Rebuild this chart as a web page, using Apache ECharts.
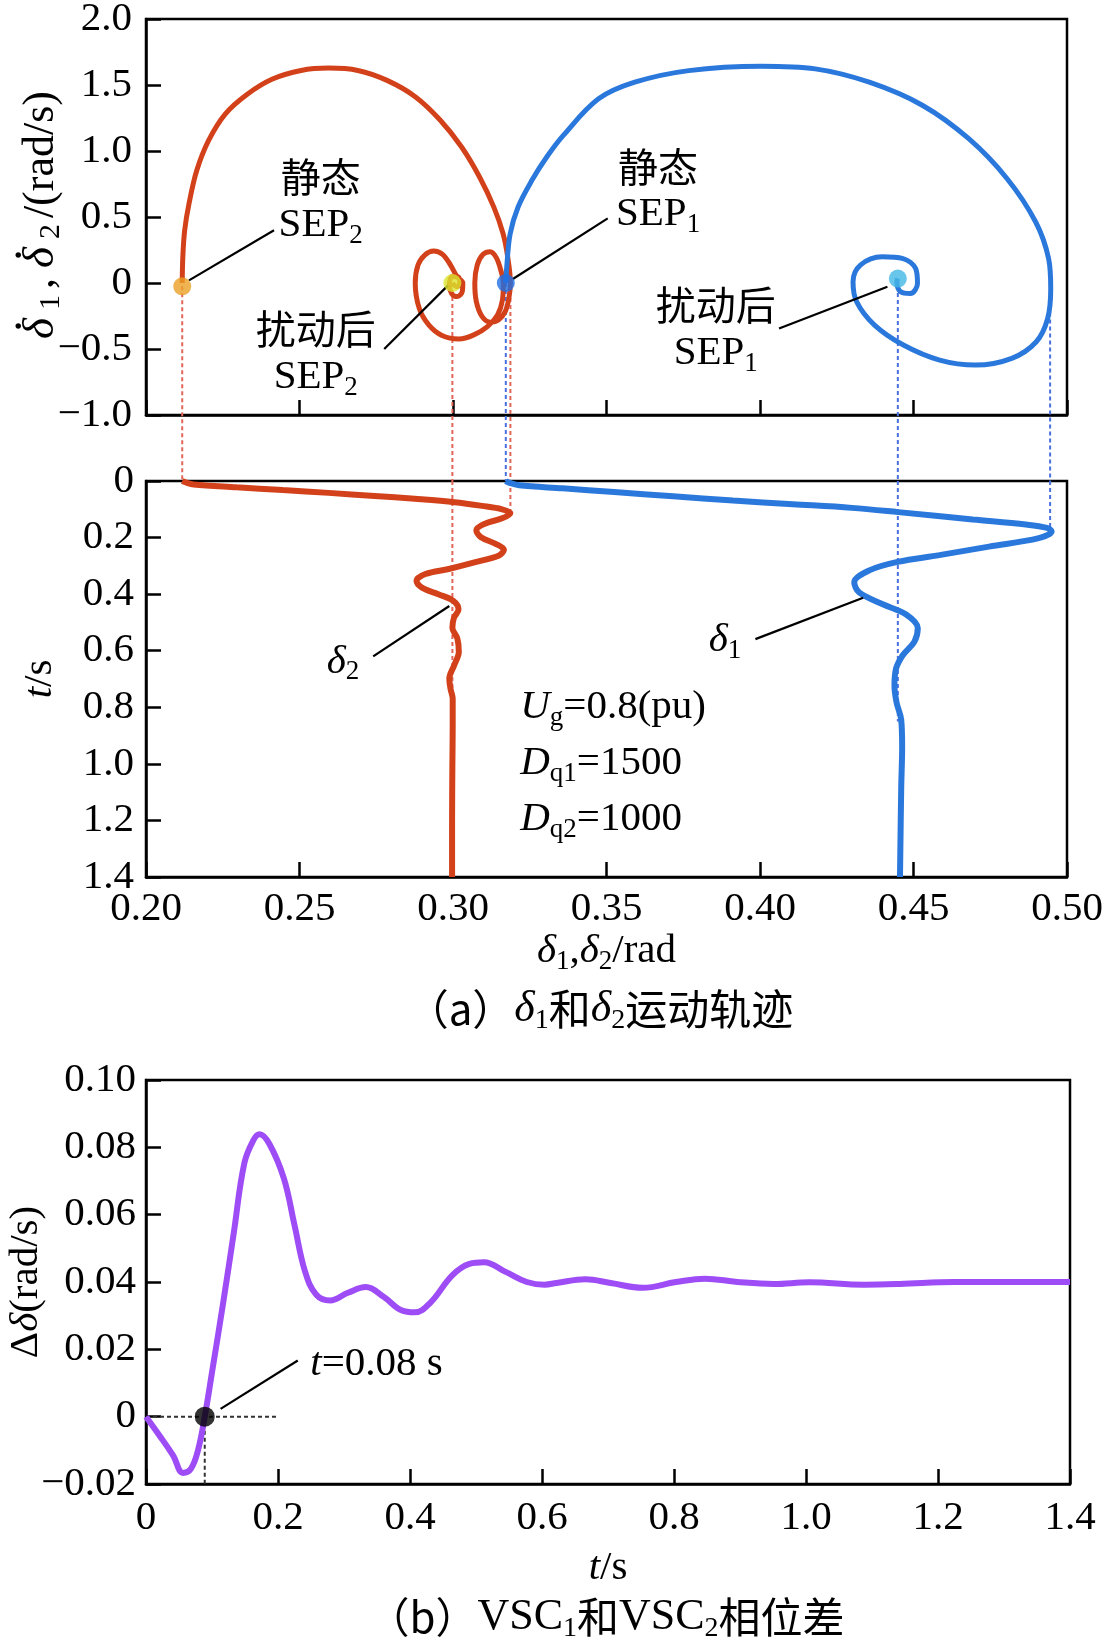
<!DOCTYPE html>
<html>
<head>
<meta charset="utf-8">
<script src="https://cdn.jsdelivr.net/npm/echarts@6/dist/echarts.min.js"></script>
<style>
  html, body { margin: 0; padding: 0; background: #fff; }
  #main { width: 1106px; height: 1641px; }
</style>
</head>
<body>
<div id="main"></div>
<script>
// phase plane: [delta, d(delta)/dt]
const phaseRed = [
  [0.2118, 0.00], [0.2120, 0.20], [0.2126, 0.40], [0.2140, 0.60], [0.2165, 0.85],
  [0.2204, 1.08], [0.2258, 1.28], [0.2330, 1.43], [0.2412, 1.545], [0.2505, 1.610],
  [0.2595, 1.628], [0.2690, 1.610], [0.2785, 1.535], [0.2878, 1.410], [0.2958, 1.235],
  [0.3028, 1.030], [0.3086, 0.805], [0.3133, 0.575], [0.3163, 0.375], [0.3178, 0.200],
  [0.3187, 0.000], [0.3182, -0.116], [0.3170, -0.217], [0.3148, -0.280], [0.3123, -0.298],
  [0.3095, -0.255], [0.3076, -0.141], [0.3071, 0.000], [0.3079, 0.136], [0.3098, 0.217],
  [0.3121, 0.237], [0.3141, 0.192], [0.3157, 0.086], [0.3164, 0.000], [0.3161, -0.129],
  [0.3145, -0.242], [0.3112, -0.330], [0.3068, -0.393], [0.3019, -0.424], [0.2964, -0.398],
  [0.2921, -0.318], [0.2890, -0.192], [0.2877, 0.000], [0.2886, 0.136], [0.2908, 0.212],
  [0.2937, 0.242], [0.2966, 0.217], [0.2992, 0.136], [0.3013, 0.048], [0.3032, 0.000],
  [0.3030, -0.066], [0.3013, -0.103], [0.2995, -0.078], [0.2988, -0.015], [0.2997, 0.048],
  [0.3016, 0.048], [0.3022, 0.000], [0.3013, -0.028], [0.2998, 0.000]
];
const phaseBlue = [
  [0.3172, 0.00], [0.3175, 0.12], [0.3186, 0.37], [0.3212, 0.576], [0.3257, 0.778],
  [0.3307, 0.960], [0.3360, 1.120], [0.3474, 1.395], [0.3592, 1.521], [0.3768, 1.609],
  [0.4004, 1.642], [0.4180, 1.622], [0.4356, 1.521], [0.4530, 1.345], [0.4680, 1.093],
  [0.4805, 0.790], [0.4898, 0.462], [0.4940, 0.185], [0.4947, -0.042], [0.4937, -0.269],
  [0.4900, -0.445], [0.4820, -0.571], [0.4702, -0.622], [0.4585, -0.584], [0.4467, -0.470],
  [0.4373, -0.319], [0.4315, -0.143], [0.4303, 0.009], [0.4327, 0.135], [0.4398, 0.198],
  [0.4466, 0.185], [0.4507, 0.109], [0.4513, -0.004], [0.4490, -0.080], [0.4458, -0.067],
  [0.4446, 0.009], [0.4449, 0.034]
];
// equilibrium points: static SEP2, post SEP2, static SEP1, post SEP1
const sepX = [0.2118, 0.2998, 0.3172, 0.4449];
const sepY = [-0.025, 0.000, 0.000, 0.034];
const sepColor = ['#eba125', '#dbe62e', '#1f6fe6', '#44b8e6'];

// time response: [delta, t]
const timeRed = [
  [0.2118, 0], [0.2132, 0.006], [0.2155, 0.012], [0.2295, 0.022], [0.2445, 0.032],
  [0.2595, 0.042], [0.2745, 0.053], [0.2875, 0.063], [0.3005, 0.075], [0.3095, 0.088],
  [0.3160, 0.100], [0.3187, 0.113], [0.3160, 0.132], [0.3106, 0.150], [0.3076, 0.174],
  [0.3090, 0.198], [0.3139, 0.222], [0.3166, 0.243], [0.3150, 0.263], [0.3073, 0.287],
  [0.2986, 0.311], [0.2910, 0.329], [0.2881, 0.353], [0.2899, 0.377], [0.2954, 0.401],
  [0.3001, 0.424], [0.3018, 0.454], [0.3003, 0.484], [0.2998, 0.520], [0.3014, 0.556],
  [0.3019, 0.604], [0.3004, 0.651], [0.2988, 0.699], [0.2992, 0.735], [0.2999, 0.770],
  [0.2999, 0.866], [0.2998, 1.0], [0.2997, 1.2], [0.2997, 1.4]
];
const timeBlue = [
  [0.3172, 0], [0.3182, 0.006], [0.3215, 0.015], [0.3357, 0.026], [0.3525, 0.039],
  [0.3717, 0.054], [0.3912, 0.069], [0.4107, 0.082], [0.4299, 0.095], [0.4450, 0.110],
  [0.4693, 0.136], [0.4866, 0.154], [0.4935, 0.166], [0.4950, 0.178], [0.4908, 0.202],
  [0.4746, 0.232], [0.4584, 0.262], [0.4448, 0.286], [0.4356, 0.316], [0.4307, 0.358],
  [0.4323, 0.394], [0.4400, 0.436], [0.4476, 0.472], [0.4514, 0.520], [0.4503, 0.568],
  [0.4465, 0.616], [0.4443, 0.664], [0.4438, 0.724], [0.4445, 0.784], [0.4460, 0.844],
  [0.4463, 0.940], [0.4460, 1.084], [0.4456, 1.4]
];

// dotted guides: x, start in phase plane, end time in lower plot
const guideRedX = [0.2118, 0.2998, 0.3187];
const guideRedTop = [-0.025, 0.0, -0.06];
const guideRedEnd = [0.0, 0.80, 0.113];
const guideBlueX = [0.3172, 0.4449, 0.4945];
const guideBlueTop = [0.0, 0.03, -0.17];
const guideBlueEnd = [0.0, 0.85, 0.175];

// phase difference
const diffT = [
  0, 0.019, 0.041, 0.056, 0.068, 0.079, 0.089, 0.101, 0.117, 0.133, 0.149, 0.163, 0.172,
  0.187, 0.209, 0.225, 0.241, 0.258, 0.279, 0.306, 0.333, 0.360, 0.387, 0.407, 0.431,
  0.464, 0.490, 0.512, 0.545, 0.577, 0.604, 0.622, 0.666, 0.704, 0.753, 0.803, 0.847,
  0.896, 0.951, 1.005, 1.088, 1.142, 1.225, 1.4
];
const diffV = [
  0, -0.0052, -0.0115, -0.0167, -0.0155, -0.0098, 0, 0.0144, 0.0339, 0.0546, 0.0753, 0.0822, 0.0839,
  0.0810, 0.0707, 0.0569, 0.0431, 0.0362, 0.0345, 0.0368, 0.0385, 0.0356, 0.0316, 0.0310, 0.0339,
  0.0420, 0.0454, 0.0459, 0.0430, 0.0400, 0.0392, 0.0397, 0.0408, 0.0397, 0.0383, 0.0400, 0.0410,
  0.0400, 0.0394, 0.0399, 0.0392, 0.0394, 0.0400, 0.0400
];
const crossT = 0.089;

// annotations
const topNoteText = ['{c|静态}\n{n|SEP}{s|2}', '{c|静态}\n{n|SEP}{s|1}', '{c|扰动后}\n{n|SEP}{s|2}', '{c|扰动后}\n{n|SEP}{s|1}'];
const topNoteX = [0.2569, 0.3668, 0.2553, 0.3856];
const topNoteY = [0.62, 0.70, -0.53, -0.35];
const topLeaders = [
  [[0.2140, 0.02], [0.2417, 0.40]],
  [[0.3195, 0.03], [0.3504, 0.49]],
  [[0.2983, -0.02], [0.2776, -0.50]],
  [[0.4415, -0.029], [0.4062, -0.344]]
];
const midNoteText = ['{i|δ}{s|2}', '{i|δ}{s|1}'];
const midNoteX = [0.2642, 0.3886];
const midNoteY = [0.639, 0.563];
const midLeaders = [
  [[0.2740, 0.620], [0.2988, 0.442]],
  [[0.3985, 0.559], [0.4336, 0.413]]
];
const paramText = ['{i|U}{s|g}{n|=0.8(pu)}', '{i|D}{s|q1}{n|=1500}', '{i|D}{s|q2}{n|=1000}'];
const paramX = 0.3219;
const paramY = [0.800, 0.998, 1.197];
const crossNote = '{i|t}{n|=0.08 s}';
const crossLeader = [[0.113, 0.0023], [0.230, 0.0167]];

const FONT = '"Liberation Serif", "Noto Sans CJK SC", serif';
const CJK = '"Noto Sans CJK SC", "Liberation Serif", sans-serif';
const noBorder = { textBorderWidth: 0, textBorderColor: 'transparent', textShadowBlur: 0 };
const RICH = {
  n: Object.assign({ fontFamily: FONT, fontSize: 41, lineHeight: 48, color: '#000' }, noBorder),
  i: Object.assign({ fontFamily: FONT, fontSize: 41, lineHeight: 48, fontStyle: 'italic', color: '#000' }, noBorder),
  c: Object.assign({ fontFamily: CJK, fontSize: 40, lineHeight: 48, color: '#000' }, noBorder),
  s: Object.assign({ fontFamily: FONT, fontSize: 27, verticalAlign: 'bottom', color: '#000' }, noBorder)
};
const CAP = {
  n: { fontFamily: FONT, fontSize: 44, lineHeight: 52, color: '#000' },
  i: { fontFamily: FONT, fontSize: 44, lineHeight: 52, fontStyle: 'italic', color: '#000' },
  c: { fontFamily: CJK, fontSize: 42, lineHeight: 52, color: '#000' },
  s: { fontFamily: FONT, fontSize: 28, verticalAlign: 'bottom', color: '#000' }
};
const noteLabel = Object.assign({ show: true, color: '#000', opacity: 1, rich: RICH }, noBorder);

// dotted-delta axis name: a row of dots sitting over each delta, widths measured
const ctx = document.createElement('canvas').getContext('2d');
function tw(text, font) { ctx.font = font; return ctx.measureText(text).width; }
const padL = 4, padR = 8, padS = 6, padC = 6;
const wD = tw('δ', 'italic 45px "Liberation Serif"');
const wS = tw('1', '30px "Liberation Serif"');
const wC = tw(',', '44px "Liberation Serif"');
const wR = tw('/(rad/s)', '44px "Liberation Serif"');
const wDot = tw('.', '46px "Liberation Serif"');
const dotRich = {
  dd: { fontFamily: FONT, fontSize: 45, lineHeight: 50, fontStyle: 'italic', color: '#000', padding: [0, padR, 0, padL] },
  ds: { fontFamily: FONT, fontSize: 30, verticalAlign: 'bottom', color: '#000', padding: [0, padS, 0, 0] },
  dc: { fontFamily: FONT, fontSize: 44, lineHeight: 50, color: '#000', padding: [0, padC, 0, 0] },
  dn: { fontFamily: FONT, fontSize: 44, lineHeight: 50, color: '#000' },
  dt: { fontFamily: FONT, fontSize: 46, lineHeight: 14, color: '#000', width: wDot },
  g0: { fontSize: 10, lineHeight: 14, width: padL + wD * 0.62 - wDot / 2 },
  g1: { fontSize: 10, lineHeight: 14, width: wD * 0.38 + padR + wS + padS + wC + padC + padL + wD * 0.62 - wDot },
  g2: { fontSize: 10, lineHeight: 14, width: wD * 0.38 + padR + wS + padS + wR - wDot / 2 }
};
const topYName = '{g0| }{dt|.}{g1| }{dt|.}{g2| }\n{dd|δ}{ds|1}{dc|,}{dd|δ}{ds|2}{dn|/(rad/s)}';

const RED = '#d3411b';
const BLUE = '#2b78dc';
const PURPLE = '#9d4cf6';

const minus = s => s.replace('-', '\u2212');
const axisFont = { fontFamily: FONT, fontSize: 41, color: '#000' };
const axisLine = { onZero: false, lineStyle: { color: '#000', width: 2.5 } };
const axisTick = { inside: true, length: 15, lineStyle: { color: '#000', width: 2.5 } };

function guideSeries(xs, y0s, y1s, color, grid) {
  return xs.map((x, k) => ({
    type: 'line', xAxisIndex: grid, yAxisIndex: grid, clip: false, silent: true,
    symbol: 'none', z: 1,
    data: [[x, y0s[k]], [x, y1s[k]]],
    lineStyle: { color: color, width: 2, type: [4, 3] }
  }));
}
function leaderSeries(list, grid) {
  return list.map(seg => ({
    type: 'line', xAxisIndex: grid, yAxisIndex: grid, silent: true, symbol: 'none', z: 5,
    data: seg, lineStyle: { color: '#000', width: 2.2 }
  }));
}

const chart = echarts.init(document.getElementById('main'));
const gridBase = { show: true, borderColor: '#000', borderWidth: 2.5, containLabel: false, outerBoundsMode: 'none' };
const option = {
  animation: false,
  backgroundColor: '#fff',
  grid: [
    Object.assign({ left: 146, top: 19, width: 921, height: 396 }, gridBase),
    Object.assign({ left: 146, top: 481, width: 921, height: 396 }, gridBase),
    Object.assign({ left: 146, top: 1080, width: 924, height: 404 }, gridBase)
  ],
  xAxis: [
    { gridIndex: 0, type: 'value', min: 0.2, max: 0.5, interval: 0.05, axisLine, axisTick,
      axisLabel: { show: false }, splitLine: { show: false } },
    { gridIndex: 1, type: 'value', min: 0.2, max: 0.5, interval: 0.05, axisLine, axisTick,
      axisLabel: Object.assign({ margin: 12, formatter: v => v.toFixed(2) }, axisFont),
      splitLine: { show: false },
      name: '{i|δ}{s|1}{n|,}{i|δ}{s|2}{n|/rad}', nameLocation: 'middle', nameGap: 50, nameMoveOverlap: false,
      nameTextStyle: { rich: RICH } },
    { gridIndex: 2, type: 'value', min: 0, max: 1.4, interval: 0.2, axisLine, axisTick,
      axisLabel: Object.assign({ margin: 14, formatter: v => v === 0 ? '0' : v.toFixed(1) }, axisFont),
      splitLine: { show: false },
      name: '{i|t}{n|/s}', nameLocation: 'middle', nameGap: 60, nameMoveOverlap: false,
      nameTextStyle: { rich: RICH } }
  ],
  yAxis: [
    { gridIndex: 0, type: 'value', min: -1, max: 2, interval: 0.5, axisLine, axisTick,
      axisLabel: Object.assign({ margin: 14, formatter: v => v === 0 ? '0' : minus(v.toFixed(1)) }, axisFont),
      splitLine: { show: false },
      name: topYName, nameLocation: 'middle', nameGap: 80, nameMoveOverlap: false,
      nameTextStyle: { rich: dotRich } },
    { gridIndex: 1, type: 'value', min: 0, max: 1.4, interval: 0.2, inverse: true, axisLine, axisTick,
      axisLabel: Object.assign({ margin: 12, formatter: v => v === 0 ? '0' : v.toFixed(1) }, axisFont),
      splitLine: { show: false },
      name: '{i|t}{n|/s}', nameLocation: 'middle', nameGap: 82, nameMoveOverlap: false,
      nameTextStyle: { rich: RICH } },
    { gridIndex: 2, type: 'value', min: -0.02, max: 0.1, interval: 0.02, axisLine, axisTick,
      axisLabel: Object.assign({ margin: 10, formatter: v => Math.abs(v) < 1e-9 ? '0' : minus(v.toFixed(2)) }, axisFont),
      splitLine: { show: false },
      name: '{n|Δ}{i|δ}{n|(rad/s)}', nameLocation: 'middle', nameGap: 96, nameMoveOverlap: false,
      nameTextStyle: { rich: RICH } }
  ],
  graphic: [
    { type: 'text', x: 600, y: 1009, style: { text: '{c|（a）}{i|δ}{s|1}{c|和}{i|δ}{s|2}{c|运动轨迹}',
      rich: CAP, align: 'center', verticalAlign: 'middle' } },
    { type: 'text', x: 606, y: 1617, style: { text: '{c|（b）}{n|VSC}{s|1}{c|和}{n|VSC}{s|2}{c|相位差}',
      rich: CAP, align: 'center', verticalAlign: 'middle' } }
  ],
  series: [].concat(
    guideSeries(guideRedX, guideRedTop, guideRedX.map(() => -1.5), '#e0665a', 0),
    guideSeries(guideBlueX, guideBlueTop, guideBlueX.map(() => -1.5), '#4a70e0', 0),
    guideSeries(guideRedX, guideRedX.map(() => 0), guideRedEnd, '#e0665a', 1),
    guideSeries(guideBlueX, guideBlueX.map(() => 0), guideBlueEnd, '#4a70e0', 1),
    [
      { type: 'line', xAxisIndex: 0, yAxisIndex: 0, data: phaseRed, symbol: 'none', smooth: 0.35,
        lineStyle: { color: RED, width: 5 }, z: 3 },
      { type: 'line', xAxisIndex: 0, yAxisIndex: 0, data: phaseBlue, symbol: 'none', smooth: 0.35,
        lineStyle: { color: BLUE, width: 5 }, z: 4 },
      { type: 'scatter', xAxisIndex: 0, yAxisIndex: 0, symbolSize: 18, z: 6,
        data: sepX.map((x, k) => ({ value: [x, sepY[k]], itemStyle: { color: sepColor[k] } })) },
      { type: 'scatter', xAxisIndex: 0, yAxisIndex: 0, symbolSize: 0, silent: true, z: 7,
        itemStyle: { color: '#000' },
        data: topNoteX.map((x, k) => ({ value: [x, topNoteY[k]], label: { formatter: topNoteText[k] } })),
        label: Object.assign({ position: 'inside' }, noteLabel) }
    ],
    leaderSeries(topLeaders, 0),
    [
      { type: 'line', xAxisIndex: 1, yAxisIndex: 1, data: timeRed, symbol: 'none', smooth: 0.35,
        lineStyle: { color: RED, width: 6 }, z: 3 },
      { type: 'line', xAxisIndex: 1, yAxisIndex: 1, data: timeBlue, symbol: 'none', smooth: 0.35,
        lineStyle: { color: BLUE, width: 6 }, z: 3 },
      { type: 'scatter', xAxisIndex: 1, yAxisIndex: 1, symbolSize: 0, silent: true, z: 7,
        itemStyle: { color: '#000' },
        data: midNoteX.map((x, k) => ({ value: [x, midNoteY[k]], label: { formatter: midNoteText[k] } })),
        label: Object.assign({ position: 'inside' }, noteLabel) },
      { type: 'scatter', xAxisIndex: 1, yAxisIndex: 1, symbolSize: 0, silent: true, z: 7,
        itemStyle: { color: '#000' },
        data: paramY.map((y, k) => ({ value: [paramX, y], label: { formatter: paramText[k] } })),
        label: Object.assign({ position: 'right', distance: 0 }, noteLabel) }
    ],
    leaderSeries(midLeaders, 1),
    [
      { type: 'line', xAxisIndex: 2, yAxisIndex: 2, silent: true, symbol: 'none', z: 2,
        data: [[0, 0], [0.197, 0]], lineStyle: { color: '#333', width: 2, type: [4, 3] } },
      { type: 'line', xAxisIndex: 2, yAxisIndex: 2, silent: true, symbol: 'none', z: 2,
        data: [[crossT, 0], [crossT, -0.02]], lineStyle: { color: '#333', width: 2, type: [4, 3] } },
      { type: 'line', xAxisIndex: 2, yAxisIndex: 2, symbol: 'none', smooth: 0.4,
        data: diffT.map((t, k) => [t, diffV[k]]), lineStyle: { color: PURPLE, width: 6 }, z: 3 },
      { type: 'scatter', xAxisIndex: 2, yAxisIndex: 2, symbolSize: 20, z: 6,
        data: [[crossT, 0]], itemStyle: { color: '#000' } },
      { type: 'scatter', xAxisIndex: 2, yAxisIndex: 2, symbolSize: 0, silent: true, z: 7,
        itemStyle: { color: '#000' },
        data: [{ value: [0.249, 0.0155], label: { formatter: crossNote } }],
        label: Object.assign({ position: 'right', distance: 0 }, noteLabel) }
    ],
    leaderSeries([crossLeader], 2)
  )
};
chart.setOption(option);
</script>
</body>
</html>
